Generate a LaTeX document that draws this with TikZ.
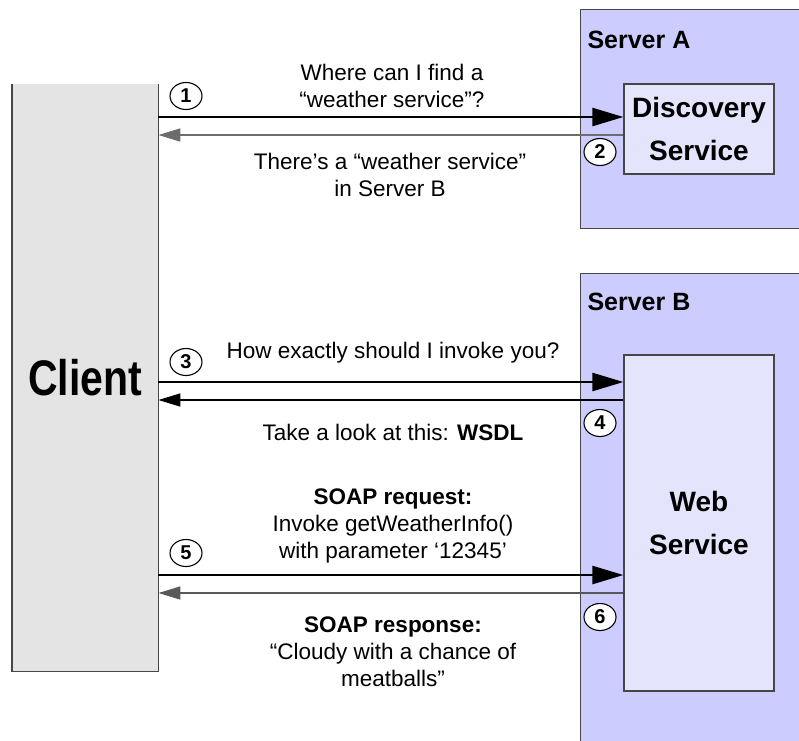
\documentclass[tikz,border=0pt]{standalone}
\usepackage{fontspec}
\setmainfont{Liberation Sans}
\newfontfamily\narrowsans{Liberation Sans}[FakeStretch=0.82]
\usetikzlibrary{arrows.meta,shapes.geometric}
\definecolor{clientgray}{RGB}{228,228,228}
\definecolor{serverfill}{RGB}{204,204,255}
\definecolor{boxfill}{RGB}{228,228,252}
\definecolor{edgegray}{RGB}{70,70,70}
\begin{document}
\begin{tikzpicture}[x=1pt,y=-1pt,
  serverbox/.style={draw=edgegray,line width=1.2pt,fill=serverfill,anchor=north west,inner sep=0pt},
  innerbox/.style={draw=edgegray,line width=1.2pt,fill=boxfill,inner sep=0pt,align=center,
     font=\fontsize{28}{43}\selectfont\bfseries},
  serverlabel/.style={anchor=west,font=\fontsize{25}{29}\selectfont\bfseries},
  msg/.style={align=center,font=\fontsize{22.5}{27}\selectfont},
  num/.style={ellipse,draw=black,line width=1.1pt,minimum width=32pt,minimum height=27pt,inner sep=0pt,
     font=\fontsize{20}{20}\selectfont\bfseries},
  fwd/.style={line width=2.4pt,-{Triangle[length=31pt,width=18pt]}},
  back/.style={line width=1.6pt,-{Triangle[length=22pt,width=13pt]}}
]
\useasboundingbox (0,0) rectangle (799,740);
\clip (0,0) rectangle (799,740);

% Client
\node[fill=clientgray,minimum width=146pt,minimum height=587pt,inner sep=0pt,anchor=north west,
      font=\narrowsans\fontsize{50}{50}\selectfont\bfseries] (client) at (12,84) {Client};
\draw[edgegray,line width=1.4pt] (client.north west) -- (client.south west) -- (client.south east) -- (client.north east);

% Server A
\node[serverbox,minimum width=240pt,minimum height=219pt] (srvA) at (580,9) {};
\node[serverlabel] (srvAlabel) at (584,40) {Server A};
\node[innerbox,minimum width=150pt,minimum height=90pt] (disc) at (699,129) {Discovery\\Service};

% Server B
\node[serverbox,minimum width=240pt,minimum height=500pt] (srvB) at (580,273) {};
\node[serverlabel] (srvBlabel) at (584,302) {Server B};
\node[innerbox,minimum width=150pt,minimum height=336pt] (web) at (699,523) {Web\\Service};

% Arrows
\draw[fwd] (client.east |- 0,117) -- (disc.west |- 0,117);
\draw[back,draw=gray!85!black,fill=black] (disc.west |- 0,135) -- (client.east |- 0,135);
\draw[fwd] (client.east |- 0,382) -- (web.west |- 0,382);
\draw[back,black] (web.west |- 0,400) -- (client.east |- 0,400);
\draw[fwd] (client.east |- 0,575) -- (web.west |- 0,575);
\draw[back,draw=gray!70!black,fill=black] (web.west |- 0,593) -- (client.east |- 0,593);

% Numbers
\node[num] (n1) at (186,96) {1};
\node[num,fill=white] (n2) at (600,152) {2};
\node[num] (n3) at (186,362) {3};
\node[num,fill=white] (n4) at (600,423) {4};
\node[num] (n5) at (186,553) {5};
\node[num,fill=white] (n6) at (600,617) {6};

% Messages
\node[msg] (m1) at (392,86) {Where can I find a\\“weather service”?};
\node[msg] (m2) at (390,175) {There's a “weather service”\\in Server B};
\node[msg] (m3) at (393,353) {How exactly should I invoke you?};
\node[msg] (m4) at (393,432) {Take a look at this: \textbf{WSDL}};
\node[msg] (m5) at (393,526) {\textbf{SOAP request:}\\Invoke getWeatherInfo()\\with parameter ‘12345’};
\node[msg] (m6) at (393,652) {\textbf{SOAP response:}\\“Cloudy with a chance of\\meatballs”};
\end{tikzpicture}
\end{document}
